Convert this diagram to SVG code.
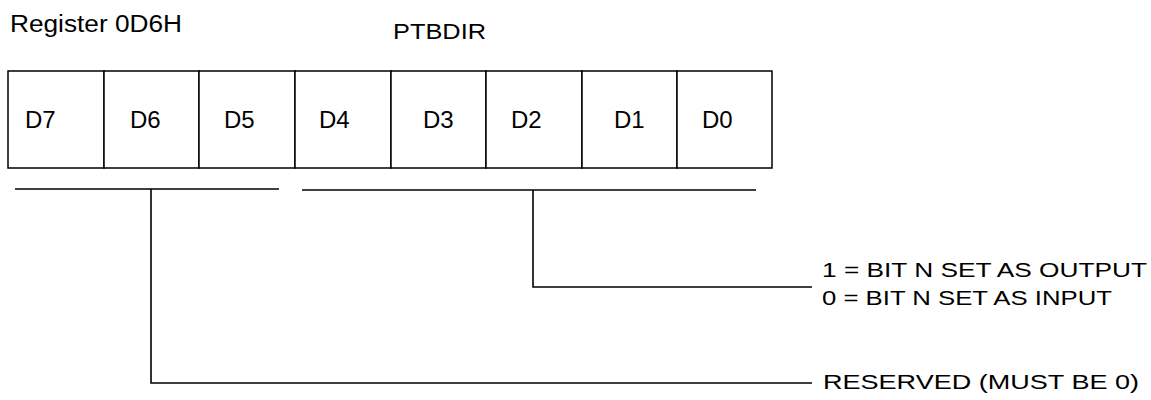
<svg xmlns="http://www.w3.org/2000/svg" width="1151" height="400" viewBox="0 0 1151 400">
<style>
text{font-family:"Liberation Sans",Arial,sans-serif;fill:#000}
.cell{fill:#fff;stroke:#000;stroke-width:1.5}
.lbl{font-size:24px}
.ann{font-size:21px}
.ln{stroke:#000;stroke-width:1.6;fill:none}
</style>
<rect width="1151" height="400" fill="#fff"/>
<g id="title">
<text x="10" y="32" font-size="23" textLength="172" lengthAdjust="spacingAndGlyphs">Register 0D6H</text>
<text x="393" y="39" font-size="22" textLength="93" lengthAdjust="spacingAndGlyphs">PTBDIR</text>
</g>
<g id="register">
<g id="bit7"><rect class="cell" x="8" y="71" width="96" height="97"/><text class="lbl" x="25" y="128">D7</text></g>
<g id="bit6"><rect class="cell" x="104" y="71" width="95" height="97"/><text class="lbl" x="130" y="128">D6</text></g>
<g id="bit5"><rect class="cell" x="199" y="71" width="96" height="97"/><text class="lbl" x="224" y="128">D5</text></g>
<g id="bit4"><rect class="cell" x="295" y="71" width="96" height="97"/><text class="lbl" x="319" y="128">D4</text></g>
<g id="bit3"><rect class="cell" x="391" y="71" width="95" height="97"/><text class="lbl" x="423" y="128">D3</text></g>
<g id="bit2"><rect class="cell" x="486" y="71" width="96" height="97"/><text class="lbl" x="511" y="128">D2</text></g>
<g id="bit1"><rect class="cell" x="582" y="71" width="95" height="97"/><text class="lbl" x="614" y="128">D1</text></g>
<g id="bit0"><rect class="cell" x="677" y="71" width="95" height="97"/><text class="lbl" x="702" y="128">D0</text></g>
</g>
<g id="connectors">
<line class="ln" x1="15" y1="189" x2="279" y2="189"/>
<line class="ln" x1="302" y1="190" x2="756" y2="190"/>
<polyline class="ln" points="151,189 151,383 812,383"/>
<polyline class="ln" points="533,190 533,287 812,287"/>
</g>
<g id="desc-output">
<text class="ann" x="822" y="277" textLength="325" lengthAdjust="spacingAndGlyphs">1 = BIT N SET AS OUTPUT</text>
<text class="ann" x="822" y="305" textLength="290" lengthAdjust="spacingAndGlyphs">0 = BIT N SET AS INPUT</text>
</g>
<g id="desc-reserved">
<text class="ann" x="823" y="389" textLength="316" lengthAdjust="spacingAndGlyphs">RESERVED (MUST BE 0)</text>
</g>
</svg>
